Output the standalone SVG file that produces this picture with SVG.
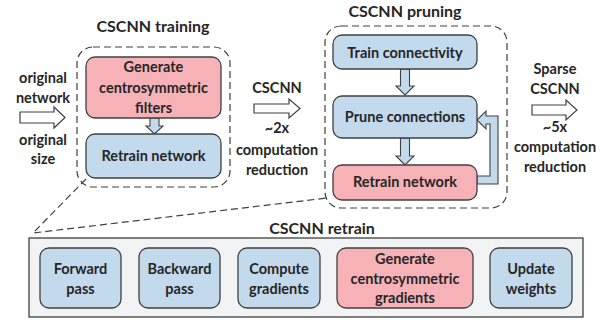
<svg xmlns="http://www.w3.org/2000/svg" width="613" height="322" viewBox="0 0 613 322">
<style>
text{font-family:Lato,"Open Sans","Liberation Sans",sans-serif;font-weight:bold;font-size:14.5px;fill:#262626;text-anchor:middle}
.t{font-size:16px}
.blue{fill:#c3d9ec;stroke:#404040;stroke-width:1.3}
.red{fill:#f7b2b7;stroke:#404040;stroke-width:1.3}
.dash{fill:none;stroke:#404040;stroke-width:1.2;stroke-dasharray:7 4}
.harrow{fill:#fff;stroke:#404040;stroke-width:1.2}
.barrow{fill:#c3d9ec;stroke:#404040;stroke-width:1.1}
</style>
<rect width="613" height="322" fill="#fff"/>
<g id="connectors">
<path class="dash" d="M86 179 L33 233 L327 198"/>
<path class="harrow" d="M20 112 H54 V107 L65 117.5 L54 128 V123 H20 Z"/>
<path class="harrow" d="M254 104 H289 V99 L300 108.5 L289 118 V113 H254 Z"/>
<path class="harrow" d="M532 105 H566 V100 L577 110 L566 120 V115 H532 Z"/>
<path class="barrow" d="M150 118 H159 V126 H163 L154.5 134 L146 126 H150 Z"/>
<path class="barrow" d="M400.5 69 H409.5 V86 H414 L405 95 L396 86 H400.5 Z"/>
<path class="barrow" d="M400.5 138 H409.5 V156 H414 L405 165 L396 156 H400.5 Z"/>
<path class="barrow" d="M477 176 H490 V124 H486 V129 L477 120 L486 111 V116 H498 V184 H477 Z"/>
<path class="barrow" d="M121 274 H131 V269 L139 279 L131 289 V284 H121 Z"/>
<path class="barrow" d="M220 274 H230 V269 L238 279 L230 289 V284 H220 Z"/>
<path class="barrow" d="M320 274 H329 V269 L337 279 L329 289 V284 H320 Z"/>
<path class="barrow" d="M473 274 H482 V269 L490 279 L482 289 V284 H473 Z"/>
</g>
<g id="labels">
<text x="43" y="83">original</text>
<text x="43" y="103">network</text>
<text x="43" y="145">original</text>
<text x="43" y="164">size</text>
<text x="277" y="93">CSCNN</text>
<text x="277" y="133">~2x</text>
<text x="277" y="155">computation</text>
<text x="277" y="175">reduction</text>
<text x="555" y="74">Sparse</text>
<text x="555" y="94">CSCNN</text>
<text x="555" y="132">~5x</text>
<text x="555" y="152">computation</text>
<text x="555" y="172">reduction</text>
</g>
<g id="training">
<rect class="dash" x="77" y="47" width="153" height="140" rx="16"/>
<text class="t" x="153" y="32">CSCNN training</text>
</g>
<g id="gen-filters">
<rect class="red" x="86" y="57" width="135" height="61" rx="9"/>
<text x="153.5" y="72">Generate</text>
<text x="153.5" y="93">centrosymmetric</text>
<text x="153.5" y="113">filters</text>
</g>
<g id="retrain1">
<rect class="blue" x="86" y="134" width="135" height="44" rx="9"/>
<text x="153.5" y="161">Retrain network</text>
</g>
<g id="pruning">
<rect class="dash" x="325" y="26" width="182" height="182" rx="16"/>
<text class="t" x="405" y="17">CSCNN pruning</text>
</g>
<g id="train-conn">
<rect class="blue" x="333" y="35" width="144" height="34" rx="9"/>
<text x="405" y="58">Train connectivity</text>
</g>
<g id="prune-conn">
<rect class="blue" x="333" y="96" width="144" height="42" rx="9"/>
<text x="405" y="122">Prune connections</text>
</g>
<g id="retrain2">
<rect class="red" x="333" y="165" width="144" height="35" rx="9"/>
<text x="405" y="187">Retrain network</text>
</g>
<g id="retrain-panel">
<rect x="29" y="238" width="554" height="79" fill="#f2f3f5" stroke="#404040" stroke-width="1.3"/>
<text class="t" x="322" y="234">CSCNN retrain</text>
</g>
<g id="forward">
<rect class="blue" x="40" y="248" width="81" height="60" rx="9"/>
<text x="80.5" y="274">Forward</text>
<text x="80.5" y="294">pass</text>
</g>
<g id="backward">
<rect class="blue" x="139" y="248" width="81" height="60" rx="9"/>
<text x="179.5" y="274">Backward</text>
<text x="179.5" y="294">pass</text>
</g>
<g id="compute">
<rect class="blue" x="238" y="248" width="82" height="60" rx="9"/>
<text x="279" y="274">Compute</text>
<text x="279" y="294">gradients</text>
</g>
<g id="gen-grad">
<rect class="red" x="337" y="248" width="136" height="60" rx="9"/>
<text x="405" y="264">Generate</text>
<text x="405" y="284">centrosymmetric</text>
<text x="405" y="303">gradients</text>
</g>
<g id="update">
<rect class="blue" x="490" y="248" width="82" height="60" rx="9"/>
<text x="531" y="274">Update</text>
<text x="531" y="294">weights</text>
</g>
</svg>
